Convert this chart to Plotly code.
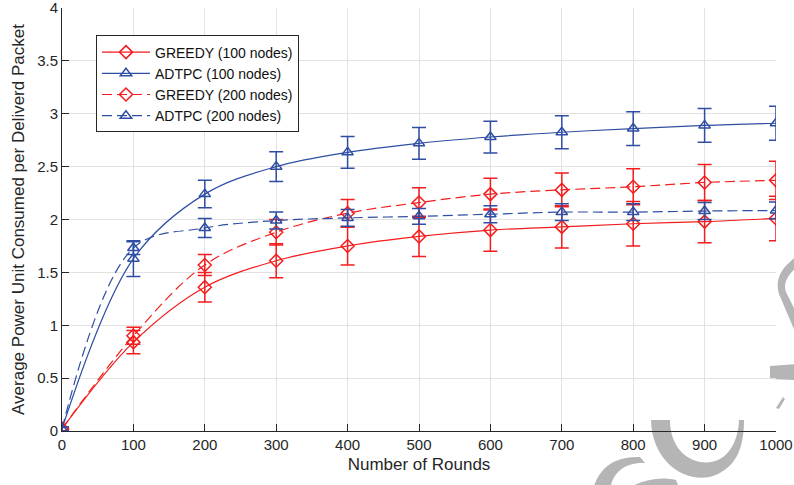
import plotly.graph_objects as go

# Number of rounds
rounds = [0, 100, 200, 300, 400, 500, 600, 700, 800, 900, 1000]

# Average power consumed per delivered packet, with error-bar half widths
greedy_100 = [0.02, 0.84, 1.36, 1.61, 1.75, 1.84, 1.90, 1.93, 1.96, 1.98, 2.01]
greedy_100_err = [0.02, 0.11, 0.14, 0.16, 0.18, 0.19, 0.20, 0.20, 0.21, 0.20, 0.21]

adtpc_100 = [0.02, 1.63, 2.24, 2.50, 2.635, 2.72, 2.78, 2.825, 2.86, 2.89, 2.91]
adtpc_100_err = [0.02, 0.17, 0.13, 0.14, 0.15, 0.15, 0.15, 0.155, 0.16, 0.16, 0.16]

greedy_200 = [0.02, 0.90, 1.57, 1.88, 2.06, 2.16, 2.24, 2.28, 2.31, 2.35, 2.37]
greedy_200_err = [0.02, 0.08, 0.10, 0.12, 0.13, 0.14, 0.15, 0.16, 0.17, 0.17, 0.18]

adtpc_200 = [0.02, 1.73, 1.92, 1.99, 2.015, 2.03, 2.05, 2.07, 2.07, 2.08, 2.085]
adtpc_200_err = [0.02, 0.06, 0.09, 0.08, 0.08, 0.075, 0.08, 0.08, 0.08, 0.08, 0.08]

RED = "#f41c1c"
BLUE = "#2f4ea3"
AXIS = "#262626"

W, H = 794, 485
M_L, M_R, M_T, M_B = 62, 18, 8, 54

series = [
    ("GREEDY (100 nodes)", greedy_100, greedy_100_err, RED, "solid", "diamond-open"),
    ("ADTPC (100 nodes)", adtpc_100, adtpc_100_err, BLUE, "solid", "triangle-up-open"),
    ("GREEDY (200 nodes)", greedy_200, greedy_200_err, RED, "10px,5px", "diamond-open"),
    ("ADTPC (200 nodes)", adtpc_200, adtpc_200_err, BLUE, "10px,5px", "triangle-up-open"),
]

fig = go.Figure()
for name, vals, errs, color, dash, symbol in series:
    fig.add_trace(go.Scatter(
        x=rounds, y=vals, name=name, mode="lines+markers",
        line=dict(color=color, width=1.2, dash=dash, shape="spline", smoothing=1.0),
        marker=dict(symbol=symbol, size=10, color=color, line=dict(color=color, width=1.5)),
        error_y=dict(type="data", array=errs, visible=True, color=color,
                     thickness=1.5, width=7),
    ))


# Faint grey watermark strokes behind the axes (page pixel coordinates -> paper)
def px(x, y):
    pw, ph = W - M_L - M_R, H - M_T - M_B
    return f"{(x - M_L) / pw:.4f},{(H - M_B - y) / ph:.4f}"


def path(*cmds):
    out = []
    for c in cmds:
        if isinstance(c, str):
            out.append(c)
        else:
            out.append(px(*c))
    return " ".join(out)


WM = "#b5b5b5"
watermark = [
    # crescent below the x axis
    path("M", (651, 420), "C", (652, 470), (700, 492), (727, 468),
         "C", (740, 458), (744, 440), (744, 420), "L", (739, 420),
         "C", (738, 445), (725, 466), (700, 462),
         "C", (680, 458), (670, 440), (670, 420), "Z"),
    # hook at the bottom edge
    path("M", (593, 490), "C", (598, 470), (612, 456), (640, 457),
         "L", (645, 463), "C", (622, 462), (612, 475), (610, 490), "Z"),
    path("M", (626, 490), "C", (640, 480), (660, 476), (676, 480),
         "L", (680, 490), "Z"),
    # shapes along the right edge
    path("M", (796, 256), "L", (790, 262), "C", (780, 270), (775, 282), (779, 294),
         "L", (796, 334), "L", (796, 312), "L", (786, 292),
         "C", (783, 284), (787, 276), (796, 268), "Z"),
    path("M", (770, 366), "L", (796, 364), "L", (796, 380), "L", (770, 379), "Z"),
    path("M", (776, 408), "L", (783, 397), "L", (785, 399), "L", (779, 409), "Z"),
]
for d in watermark:
    fig.add_shape(type="path", path=d, xref="paper", yref="paper",
                  fillcolor=WM, line=dict(width=0), layer="below")

fig.update_layout(
    width=W, height=H,
    margin=dict(l=M_L, r=M_R, t=M_T, b=M_B, autoexpand=False),
    paper_bgcolor="white", plot_bgcolor="white",
    font=dict(family="Liberation Sans, Arial, sans-serif", size=15, color=AXIS),
    showlegend=True,
    legend=dict(
        x=0.0476, y=0.935, xanchor="left", yanchor="top",
        bgcolor="white", bordercolor=AXIS, borderwidth=1,
        font=dict(size=14, color="#111"), tracegroupgap=0,
        itemwidth=48,
    ),
    xaxis=dict(
        range=[0, 1000], tickvals=list(range(0, 1001, 100)),
        title=dict(text="Number of Rounds", font=dict(size=17), standoff=6),
        showgrid=True, gridcolor="#e2e2e2", gridwidth=1,
        showline=True, linecolor=AXIS, linewidth=1,
        ticks="inside", ticklen=7, tickcolor=AXIS, zeroline=False,
        automargin=False, ticklabeloverflow="allow",
    ),
    yaxis=dict(
        range=[0, 4], tickvals=[0, 0.5, 1, 1.5, 2, 2.5, 3, 3.5, 4],
        ticktext=["0", "0.5", "1", "1.5", "2", "2.5", "3", "3.5", "4"],
        title=dict(text="Average Power Unit Consumed per Deliverd Packet",
                   font=dict(size=17), standoff=8),
        showgrid=True, gridcolor="#e2e2e2", gridwidth=1,
        showline=True, linecolor=AXIS, linewidth=1,
        ticks="inside", ticklen=7, tickcolor=AXIS, zeroline=False,
        automargin=False, ticklabeloverflow="allow",
    ),
)

fig.write_html("out.html")
